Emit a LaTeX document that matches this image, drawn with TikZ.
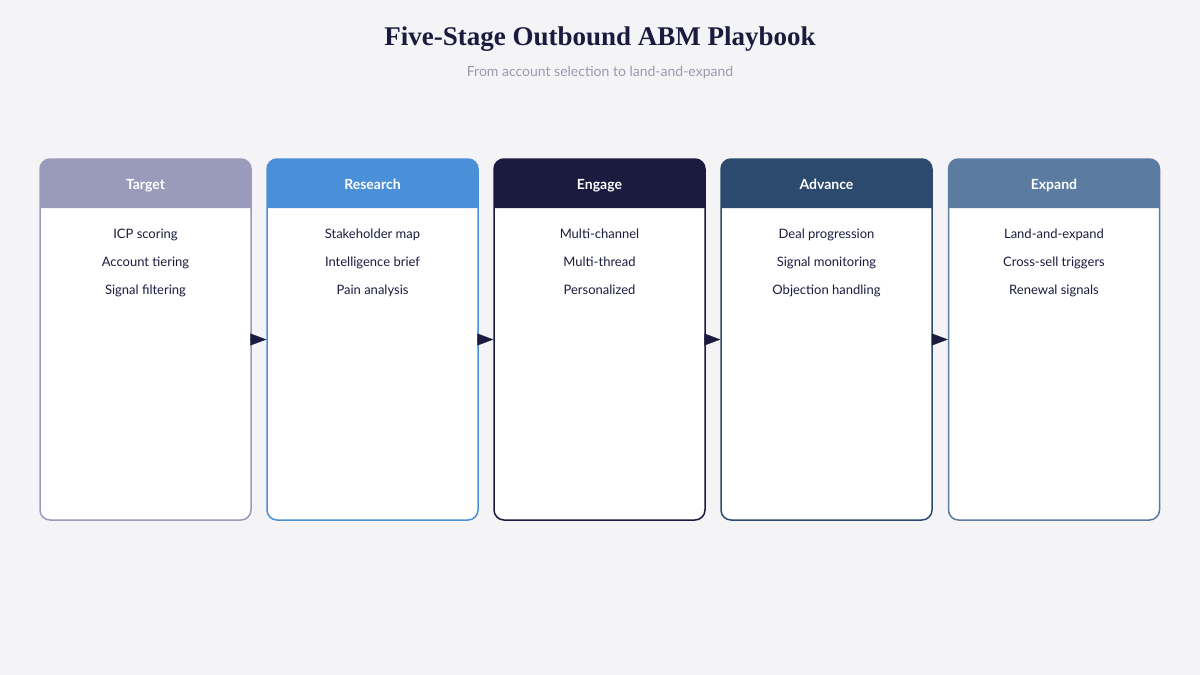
\documentclass[tikz,border=0pt]{standalone}
\usepackage{fontspec}
\setmainfont{Liberation Serif}
\setsansfont{Lato}
\usetikzlibrary{arrows.meta}
\definecolor{bgc}{HTML}{F4F4F6}
\definecolor{navy}{HTML}{1B1B3F}
\definecolor{subgrey}{HTML}{9A9AB0}
\definecolor{cTarget}{HTML}{9A9ABB}
\definecolor{cResearch}{HTML}{4A90D9}
\definecolor{cEngage}{HTML}{1B1B3F}
\definecolor{cAdvance}{HTML}{2C4A6E}
\definecolor{cExpand}{HTML}{5B7BA0}
\tikzset{
  stage/.style={draw=#1, line width=1.5pt, fill=white, rounded corners=10pt,
    minimum width=211pt, minimum height=361pt, inner sep=0pt},
  head/.style={font=\sffamily\bfseries\fontsize{14}{16}\selectfont, text=white,
    text height=10pt, text depth=3pt},
  item/.style={font=\sffamily\fontsize{13}{15}\selectfont, text=navy,
    text height=9.5pt, text depth=3pt},
  flow/.style={-{Triangle[length=16pt,width=12pt]}, line width=0.2pt, navy}
}
\begin{document}
\begin{tikzpicture}[x=1pt,y=1pt,yscale=-1,xscale=1]
\fill[bgc] (0,0) rectangle (1200,675);
\useasboundingbox (0,0) rectangle (1200,675);

% Title
\node (title) at (600,39) {\fontsize{27}{30}\selectfont\bfseries\color{navy}Five-Stage Outbound ABM Playbook};
\node (subtitle) at (600,73) {\sffamily\fontsize{14}{16}\selectfont\color{subgrey}From account selection to land-and-expand};

% Stages
\foreach \n/\x/\c/\h/\a/\b/\d in {
  1/145.5/cTarget/Target/ICP scoring/Account tiering/Signal filtering,
  2/372.5/cResearch/Research/Stakeholder map/Intelligence brief/Pain analysis,
  3/599.5/cEngage/Engage/Multi-channel/Multi-thread/Personalized,
  4/826.5/cAdvance/Advance/Deal progression/Signal monitoring/Objection handling,
  5/1054/cExpand/Expand/Land-and-expand/Cross-sell triggers/Renewal signals}{
  \node[stage=\c] (s\n) at (\x,339.5) {};
  \fill[fill=\c, rounded corners=10pt] (\x-105.5,208) -- (\x-105.5,159) -- (\x+105.5,159)
    [sharp corners] -- (\x+105.5,208) -- cycle;
  \node[head] (h\n) at (\x,186) {\h};
  \node[item] (i\n a) at (\x,235) {\a};
  \node[item] (i\n b) at (\x,263) {\b};
  \node[item] (i\n c) at (\x,291) {\d};
}

% Connectors
\foreach \i/\j in {1/2,2/3,3/4,4/5}
  \draw[flow] (s\i.east) -- (s\j.west);

\end{tikzpicture}
\end{document}
